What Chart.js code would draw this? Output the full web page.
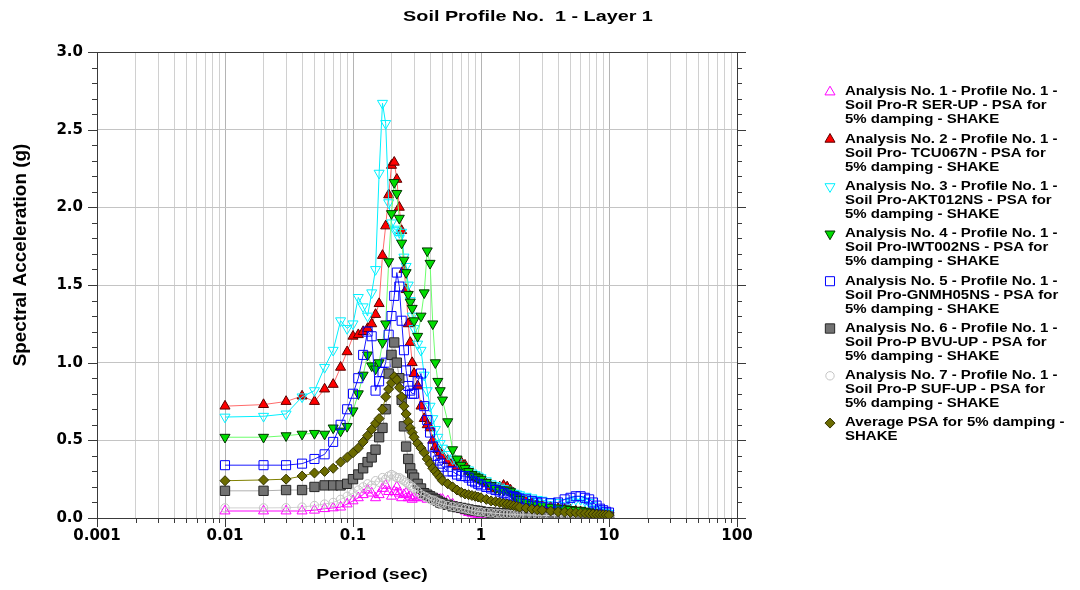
<!DOCTYPE html>
<html>
<head>
<meta charset="utf-8">
<title>Soil Profile No. 1 - Layer 1</title>
<script src="https://cdn.jsdelivr.net/npm/chart.js@4.4.1/dist/chart.umd.min.js"></script>
<style>
  html, body { margin: 0; padding: 0; background: #fff; }
  #wrap { position: relative; width: 1080px; height: 590px; }
</style>
</head>
<body>
<div id="wrap"><canvas id="psaChart"></canvas></div>
<script>
// Periods (sec) shared by every PSA curve
var periods = [
  0.01, 0.02, 0.03, 0.04, 0.05, 0.06, 0.07, 0.08, 0.09, 0.10,
  0.11, 0.12, 0.13, 0.14, 0.15, 0.16, 0.17, 0.18, 0.19, 0.20,
  0.21, 0.22, 0.23, 0.24, 0.25, 0.26, 0.27, 0.28, 0.29, 0.30,
  0.32, 0.34, 0.36, 0.38, 0.40, 0.42, 0.44, 0.46, 0.48, 0.50,
  0.55, 0.60, 0.65, 0.70, 0.75, 0.80, 0.85, 0.90, 0.95, 1.0,
  1.1, 1.2, 1.3, 1.4, 1.5, 1.6, 1.7, 1.8, 1.9, 2.0,
  2.25, 2.5, 2.75, 3.0, 3.5, 4.0, 4.5, 5.0, 5.5, 6.0,
  6.5, 7.0, 7.5, 8.0, 8.5, 9.0, 9.5, 10.0
];

// Spectral acceleration (g), 5% damping
var psaSerUp = [
  0.045, 0.045, 0.045, 0.045, 0.05, 0.06, 0.065, 0.07, 0.09, 0.11,
  0.13, 0.15, 0.18, 0.16, 0.13, 0.15, 0.19, 0.21, 0.17, 0.14,
  0.17, 0.2, 0.16, 0.13, 0.15, 0.16, 0.13, 0.14, 0.12, 0.13,
  0.13, 0.14, 0.13, 0.12, 0.13, 0.12, 0.12, 0.12, 0.12, 0.12,
  0.11, 0.09, 0.07, 0.055, 0.045, 0.035, 0.03, 0.025, 0.02, 0.018,
  0.016, 0.015, 0.014, 0.013, 0.012, 0.011, 0.01, 0.01, 0.009, 0.009,
  0.008, 0.007, 0.006, 0.006, 0.005, 0.004, 0.004, 0.003, 0.003, 0.003,
  0.002, 0.002, 0.002, 0.002, 0.002, 0.002, 0.002, 0.002
];
var psaTcu067n = [
  0.72, 0.73, 0.75, 0.785, 0.75, 0.83, 0.86, 0.97, 1.07, 1.17,
  1.18, 1.2, 1.22, 1.25, 1.31, 1.38, 1.69, 1.88, 2.08, 2.27,
  2.29, 2.18, 2.0, 1.85, 1.6, 1.47, 1.25, 1.13, 1.0, 0.93,
  0.85, 0.72, 0.64, 0.6, 0.58, 0.5, 0.46, 0.44, 0.42, 0.4,
  0.37, 0.35, 0.33, 0.36, 0.34, 0.3, 0.28, 0.26, 0.25, 0.24,
  0.22, 0.2, 0.19, 0.2, 0.21, 0.2, 0.18, 0.16, 0.14, 0.13,
  0.11, 0.1, 0.09, 0.08, 0.07, 0.06, 0.055, 0.05, 0.045, 0.04,
  0.035, 0.032, 0.03, 0.027, 0.025, 0.022, 0.02, 0.02
];
var psaAkt012ns = [
  0.65, 0.655, 0.67, 0.78, 0.82, 0.97, 1.08, 1.27, 1.22, 1.25,
  1.42, 1.36, 1.3, 1.45, 1.6, 2.22, 2.67, 2.54, 2.03, 1.9,
  1.86, 1.85, 1.8, 1.84, 1.68, 1.62, 1.5, 1.4, 1.3, 1.22,
  1.12, 1.08, 0.92, 0.82, 0.72, 0.64, 0.57, 0.52, 0.48, 0.45,
  0.41, 0.38, 0.36, 0.34, 0.32, 0.31, 0.29, 0.28, 0.27, 0.26,
  0.24, 0.22, 0.21, 0.2, 0.19, 0.18, 0.17, 0.16, 0.155, 0.15,
  0.14, 0.13, 0.12, 0.115, 0.105, 0.1, 0.1, 0.11, 0.12, 0.12,
  0.11, 0.1, 0.08, 0.06, 0.05, 0.04, 0.035, 0.03
];
var psaIwt002ns = [
  0.52, 0.52, 0.53, 0.54, 0.545, 0.54, 0.58, 0.56, 0.59, 0.69,
  0.8, 0.92, 1.05, 0.98, 0.96, 1.0, 1.13, 1.25, 1.65, 1.96,
  2.16, 2.09, 1.93, 1.77, 1.66, 1.58, 1.44, 1.39, 1.35, 1.27,
  1.17, 1.3, 1.45, 1.72, 1.64, 1.25, 1.0, 0.88, 0.82, 0.76,
  0.62, 0.44, 0.38, 0.34, 0.32, 0.3, 0.28, 0.27, 0.26, 0.25,
  0.23, 0.21, 0.19, 0.18, 0.18, 0.18, 0.17, 0.15, 0.13, 0.12,
  0.1, 0.09, 0.085, 0.08, 0.07, 0.065, 0.06, 0.055, 0.05, 0.05,
  0.045, 0.04, 0.035, 0.03, 0.028, 0.025, 0.022, 0.02
];
var psaGnmh05ns = [
  0.34, 0.34, 0.34, 0.35, 0.38, 0.41, 0.49, 0.6, 0.7, 0.8,
  0.9, 1.05, 1.2, 1.17, 0.82, 0.88, 0.94, 1.0, 1.18, 1.3,
  1.43, 1.58, 1.49, 1.27, 1.08, 0.95, 0.85, 0.82, 0.8, 0.8,
  0.88, 0.93, 0.72, 0.63, 0.55, 0.46, 0.4, 0.37, 0.35, 0.33,
  0.3, 0.3, 0.28, 0.27, 0.27, 0.26, 0.24, 0.23, 0.22, 0.21,
  0.2, 0.19, 0.18, 0.17, 0.16, 0.15, 0.14, 0.135, 0.13, 0.125,
  0.12, 0.11, 0.1, 0.1, 0.095, 0.1, 0.12, 0.13, 0.14, 0.14,
  0.13, 0.12, 0.1, 0.08, 0.06, 0.05, 0.04, 0.035
];
var psaBvuUp = [
  0.175, 0.175, 0.18, 0.18, 0.2, 0.21, 0.21, 0.21, 0.22, 0.25,
  0.28, 0.32, 0.36, 0.39, 0.44, 0.52, 0.58, 0.7, 0.93, 1.05,
  1.13, 1.0, 0.9, 0.76, 0.59, 0.46, 0.38, 0.32, 0.28, 0.26,
  0.22, 0.19, 0.16, 0.15, 0.14, 0.13, 0.12, 0.11, 0.1, 0.095,
  0.085, 0.075, 0.07, 0.065, 0.06, 0.055, 0.05, 0.048, 0.045, 0.042,
  0.038, 0.035, 0.033, 0.031, 0.03, 0.028, 0.027, 0.026, 0.025, 0.024,
  0.022, 0.02, 0.019, 0.018, 0.016, 0.015, 0.014, 0.013, 0.012, 0.011,
  0.01, 0.01, 0.009, 0.009, 0.008, 0.008, 0.007, 0.007
];
var psaSufUp = [
  0.065, 0.065, 0.066, 0.07, 0.08, 0.09, 0.1, 0.12, 0.14, 0.16,
  0.18, 0.2, 0.22, 0.21, 0.24, 0.23, 0.26, 0.25, 0.27, 0.28,
  0.27, 0.26, 0.26, 0.25, 0.24, 0.23, 0.22, 0.21, 0.2, 0.19,
  0.17, 0.15, 0.14, 0.13, 0.12, 0.115, 0.11, 0.1, 0.095, 0.09,
  0.08, 0.075, 0.07, 0.065, 0.06, 0.055, 0.05, 0.045, 0.042, 0.04,
  0.036, 0.033, 0.03, 0.028, 0.026, 0.025, 0.024, 0.023, 0.022, 0.021,
  0.02, 0.019, 0.018, 0.017, 0.016, 0.015, 0.014, 0.013, 0.012, 0.012,
  0.011, 0.011, 0.01, 0.01, 0.01, 0.009, 0.009, 0.009
];
var psaAverage = [
  0.24, 0.245, 0.25, 0.27, 0.29, 0.3, 0.32, 0.36, 0.39, 0.42,
  0.45, 0.49, 0.53, 0.57, 0.61, 0.64, 0.7, 0.78, 0.83, 0.87,
  0.91, 0.89, 0.84, 0.78, 0.72, 0.67, 0.62, 0.58, 0.55, 0.52,
  0.48, 0.45, 0.42, 0.38, 0.35, 0.32, 0.3, 0.28, 0.26, 0.24,
  0.22, 0.2, 0.18, 0.165, 0.155, 0.15, 0.145, 0.14, 0.135, 0.13,
  0.12, 0.11, 0.105, 0.1, 0.095, 0.09, 0.085, 0.08, 0.075, 0.07,
  0.064, 0.058, 0.053, 0.05, 0.045, 0.04, 0.038, 0.036, 0.034, 0.032,
  0.03, 0.028, 0.026, 0.024, 0.022, 0.021, 0.02, 0.018
];

// axis ticks
var xDecades = [0.001, 0.01, 0.1, 1, 10, 100];
var xDecadeLabels = ['0.001', '0.01', '0.1', '1', '10', '100'];
var yMajorLabels = ['0.0', '0.5', '1.0', '1.5', '2.0', '2.5', '3.0'];

var legendLines = [
  ['Analysis No. 1 - Profile No. 1 -', 'Soil Pro-R SER-UP - PSA for', '5% damping - SHAKE'],
  ['Analysis No. 2 - Profile No. 1 -', 'Soil Pro- TCU067N - PSA for', '5% damping - SHAKE'],
  ['Analysis No. 3 - Profile No. 1 -', 'Soil Pro-AKT012NS - PSA for', '5% damping - SHAKE'],
  ['Analysis No. 4 - Profile No. 1 -', 'Soil Pro-IWT002NS - PSA for', '5% damping - SHAKE'],
  ['Analysis No. 5 - Profile No. 1 -', 'Soil Pro-GNMH05NS - PSA for', '5% damping - SHAKE'],
  ['Analysis No. 6 - Profile No. 1 -', 'Soil Pro-P BVU-UP - PSA for', '5% damping - SHAKE'],
  ['Analysis No. 7 - Profile No. 1 -', 'Soil Pro-P SUF-UP - PSA for', '5% damping - SHAKE'],
  ['Average PSA for 5% damping -', 'SHAKE']
];

var NONE = 'rgba(0,0,0,0)';
var series = [
  { values: psaSerUp,    line: '#ff00ff', fill: NONE,      edge: '#ff00ff', style: 'triangle', rot: 0,   r: 5.8 },
  { values: psaTcu067n,  line: '#ff6a6a', fill: '#ff0000', edge: '#5a0000', style: 'triangle', rot: 0,   r: 5.8 },
  { values: psaAkt012ns, line: '#00f0ff', fill: NONE,      edge: '#00f0ff', style: 'triangle', rot: 180, r: 5.8 },
  { values: psaIwt002ns, line: '#6cff6c', fill: '#00dd00', edge: '#003300', style: 'triangle', rot: 180, r: 5.8 },
  { values: psaGnmh05ns, line: '#1a1aff', fill: NONE,      edge: '#0000ff', style: 'rect',     rot: 0,   r: 6.4 },
  { values: psaBvuUp,    line: '#b0b0b0', fill: '#727272', edge: '#262626', style: 'rect',     rot: 0,   r: 6.6 },
  { values: psaSufUp,    line: '#d2d2d2', fill: NONE,      edge: '#c4c4c4', style: 'circle',   rot: 0,   r: 4.2 },
  { values: psaAverage,  line: '#808000', fill: '#6b6b00', edge: '#333300', style: 'rectRot',  rot: 0,   r: 5   }
];

function toPoints(values) {
  return values.map(function(v, i) { return { x: periods[i], y: v }; });
}

function isDecade(v) {
  var l = Math.log10(v);
  return Math.abs(l - Math.round(l)) < 1e-9;
}

// text stretched along its own direction
function wideText(ctx, text, x, y, sx, align) {
  ctx.save();
  ctx.translate(x, y);
  ctx.scale(sx, 1);
  ctx.textAlign = align || 'center';
  ctx.fillText(text, 0, 0);
  ctx.restore();
}

var framePlugin = {
  id: 'frame',
  afterDraw: function(chart) {
    var ctx = chart.ctx, a = chart.chartArea;
    var xs = chart.scales.x, ys = chart.scales.y;
    ctx.save();

    // box and outward tick marks
    ctx.strokeStyle = '#3a3a3a';
    ctx.lineWidth = 1;
    ctx.strokeRect(Math.round(a.left) + 0.5, Math.round(a.top) + 0.5,
                   Math.round(a.right - a.left), Math.round(a.bottom - a.top));
    ctx.beginPath();
    xs.ticks.forEach(function(t) {
      var px = Math.round(xs.getPixelForValue(t.value)) + 0.5;
      var len = isDecade(t.value) ? 9 : 5;
      ctx.moveTo(px, a.bottom);
      ctx.lineTo(px, a.bottom + len);
    });
    ys.ticks.forEach(function(t, i) {
      var py = Math.round(ys.getPixelForValue(t.value)) + 0.5;
      var len = i % 5 === 0 ? 9 : 5;
      ctx.moveTo(a.left - len, py);
      ctx.lineTo(a.left, py);
      ctx.moveTo(a.right, py);
      ctx.lineTo(a.right + len, py);
    });
    ctx.stroke();

    // titles
    ctx.fillStyle = '#000';
    ctx.textBaseline = 'middle';
    ctx.font = 'bold 15px "Liberation Sans", Arial, sans-serif';
    wideText(ctx, 'Soil Profile No.  1 - Layer 1', 528, 17, 1.32);
    wideText(ctx, 'Period (sec)', 372, 575, 1.3);

    ctx.save();
    ctx.translate(21, 255);
    ctx.rotate(-Math.PI / 2);
    ctx.font = 'bold 18px "Liberation Sans", Arial, sans-serif';
    wideText(ctx, 'Spectral Acceleration (g)', 0, 0, 1.05);
    ctx.restore();

    // legend
    ctx.font = 'bold 12px "Liberation Sans", Arial, sans-serif';
    series.forEach(function(s, i) {
      var y0 = 92 + i * 47.3;
      ctx.fillStyle = s.fill;
      ctx.strokeStyle = s.edge;
      ctx.lineWidth = 1;
      Chart.helpers.drawPoint(ctx, {
        pointStyle: s.style, radius: s.r, rotation: s.rot, borderWidth: 1
      }, 830, y0);
      ctx.fillStyle = '#000';
      legendLines[i].forEach(function(txt, j) {
        wideText(ctx, txt, 845, y0 + j * 14, 1.25, 'left');
      });
    });
    ctx.restore();
  }
};

var tickFont = { family: '"DejaVu Sans", sans-serif', size: 15, weight: 'bold' };

new Chart(document.getElementById('psaChart'), {
  type: 'line',
  data: {
    datasets: series.map(function(s, i) {
      return {
        label: legendLines[i].join(' '),
        data: toPoints(s.values),
        borderColor: s.line,
        borderWidth: 1,
        backgroundColor: s.fill,
        pointStyle: s.style,
        pointRotation: s.rot,
        pointRadius: s.r,
        pointHoverRadius: s.r,
        pointBackgroundColor: s.fill,
        pointBorderColor: s.edge,
        pointBorderWidth: 1,
        tension: 0,
        fill: false,
        order: series.length - i
      };
    })
  },
  options: {
    responsive: true,
    maintainAspectRatio: false,
    animation: false,
    devicePixelRatio: 1,
    events: [],
    layout: { padding: { left: 0, top: 52, right: 343, bottom: 0 } },
    plugins: {
      legend: { display: false },
      title: { display: false },
      tooltip: { enabled: false }
    },
    scales: {
      x: {
        type: 'logarithmic',
        min: 0.001,
        max: 100,
        afterBuildTicks: function(scale) {
          var ticks = [];
          xDecades.forEach(function(d, k) {
            for (var m = 1; m <= 9; m++) {
              if (k === xDecades.length - 1 && m > 1) break;
              ticks.push({ value: d * m });
            }
          });
          scale.ticks = ticks;
        },
        afterFit: function(scale) { scale.height = 72; },
        ticks: {
          autoSkip: false,
          maxRotation: 0,
          padding: 9,
          color: '#000',
          font: tickFont,
          callback: function(value) {
            for (var k = 0; k < xDecades.length; k++) {
              if (Math.abs(value / xDecades[k] - 1) < 1e-6) return xDecadeLabels[k];
            }
            return '';
          }
        },
        grid: {
          drawTicks: false,
          lineWidth: 1,
          color: function(c) {
            if (!c.tick) return '#d0d0d0';
            return isDecade(c.tick.value) ? '#b4b4b4' : '#d0d0d0';
          }
        },
        border: { display: false }
      },
      y: {
        min: 0,
        max: 3,
        afterBuildTicks: function(scale) {
          var ticks = [];
          for (var k = 0; k <= 30; k++) ticks.push({ value: k / 10 });
          scale.ticks = ticks;
        },
        afterFit: function(scale) { scale.width = 97; },
        ticks: {
          autoSkip: false,
          padding: 14,
          color: '#000',
          font: tickFont,
          callback: function(value, index) {
            return index % 5 === 0 ? yMajorLabels[index / 5] : '';
          }
        },
        grid: {
          drawTicks: false,
          lineWidth: 1,
          color: function(c) {
            if (!c.tick) return NONE;
            return c.index % 5 === 0 ? '#c4c4c4' : NONE;
          }
        },
        border: { display: false }
      }
    }
  },
  plugins: [framePlugin]
});
</script>
</body>
</html>
